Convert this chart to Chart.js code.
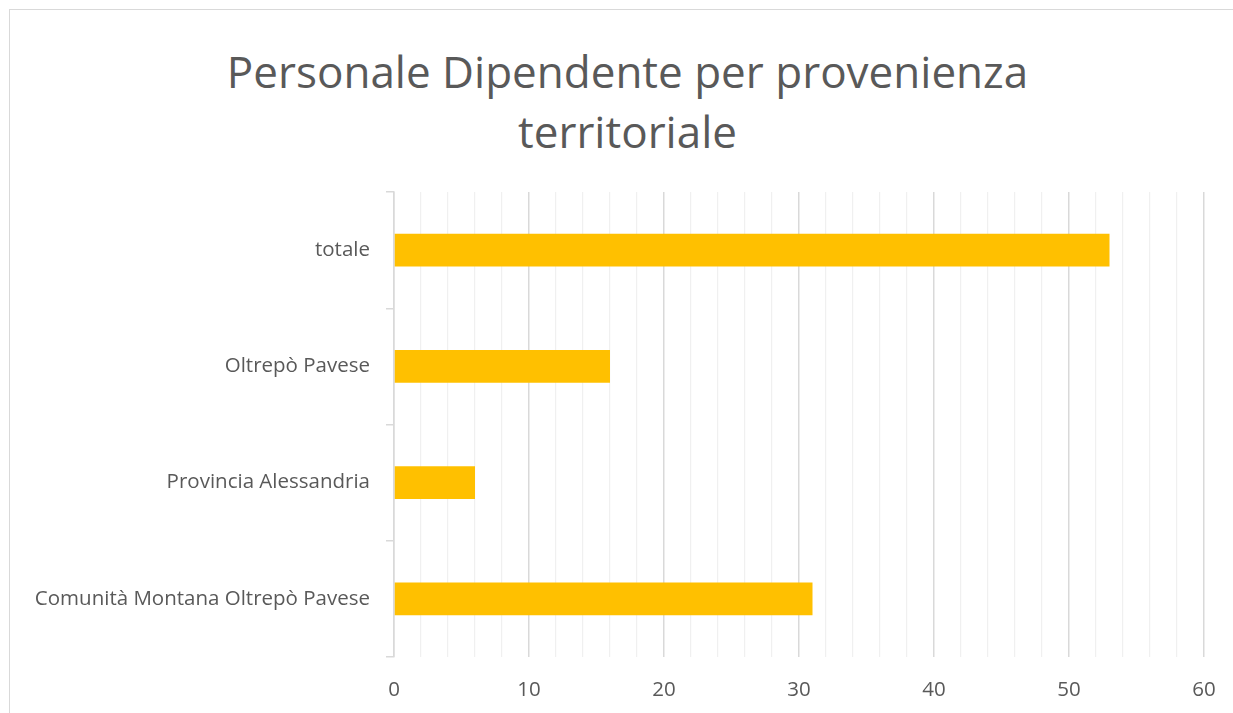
<!DOCTYPE html>
<html>
<head>
<meta charset="utf-8">
<script src="https://cdn.jsdelivr.net/npm/chart.js@4"></script>
<style>
  html, body { margin: 0; padding: 0; background: #fff; overflow: hidden; }
  body { width: 1233px; height: 713px; position: relative; }
  .frame { position: absolute; left: 9px; top: 9px; width: 1300px; height: 800px; border: 1px solid #d9d9d9; box-sizing: border-box; }
  .title { position: absolute; left: 0; top: 41px; width: 1255px; text-align: center; font-family: "Open Sans", sans-serif; font-size: 44px; line-height: 60px; color: #595959; }
  #chart { position: absolute; left: 0; top: 0; }
</style>
</head>
<body>
<div class="frame"></div>
<div class="title">Personale Dipendente per provenienza<br>territoriale</div>
<canvas id="chart" width="1233" height="713"></canvas>
<script>
const categories = ["totale", "Oltrepò Pavese", "Provincia Alessandria", "Comunità Montana Oltrepò Pavese"];
const values = [53, 16, 6, 31];
const xMin = 0;
const xMax = 60;
const xStep = 2;

const textColor = "#595959";
const font = { family: "Open Sans", size: 20.5 };

new Chart(document.getElementById("chart"), {
  type: "bar",
  data: {
    labels: categories,
    datasets: [
      {
        data: values,
        backgroundColor: "#ffc000",
        categoryPercentage: 1,
        barPercentage: 0.28,
      },
    ],
  },
  options: {
    indexAxis: "y",
    responsive: false,
    animation: false,
    layout: { padding: { top: 192, right: 29, left: 0, bottom: 0 } },
    plugins: { legend: { display: false }, tooltip: { enabled: false }, title: { display: false } },
    scales: {
      x: {
        min: xMin,
        max: xMax,
        ticks: {
          stepSize: xStep,
          autoSkip: false,
          maxRotation: 0,
          color: textColor,
          font,
          padding: 21,
          callback: (v) => (v % 10 === 0 ? v : ""),
        },
        grid: {
          drawTicks: false,
          lineWidth: (ctx) => (ctx.tick && ctx.tick.value % 10 === 0 ? 1.5 : 1.2),
          color: (ctx) => (ctx.tick && ctx.tick.value % 10 === 0 ? "#d9d9d9" : "#f0f0f0"),
        },
        border: { display: false },
        afterFit: (s) => {
          s.height = 56;
          s.paddingLeft = 0;
          s.paddingRight = 0;
        },
      },
      y: {
        ticks: { color: textColor, font, padding: 16 },
        grid: { drawOnChartArea: false, drawTicks: true, tickLength: 8, color: "#d9d9d9", lineWidth: 1.5 },
        border: { display: true, color: "#d9d9d9", width: 1.5 },
        afterFit: (s) => { s.width = 394; },
      },
    },
  },
});
</script>
</body>
</html>
